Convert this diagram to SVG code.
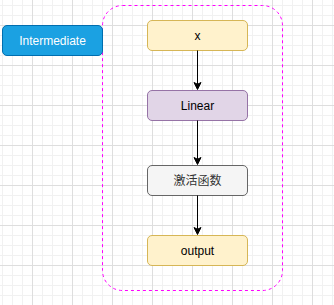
<svg xmlns="http://www.w3.org/2000/svg" width="334" height="305" viewBox="0 0 334 305">
  <defs>
    <pattern id="grid" patternUnits="userSpaceOnUse" x="32" y="25" width="40" height="40">
      <rect x="0" y="0" width="40" height="40" fill="#ffffff"/>
      <g fill="#f1f1f1">
        <rect x="10" y="0" width="1" height="40"/>
        <rect x="20" y="0" width="1" height="40"/>
        <rect x="30" y="0" width="1" height="40"/>
        <rect x="0" y="10" width="40" height="1"/>
        <rect x="0" y="20" width="40" height="1"/>
        <rect x="0" y="30" width="40" height="1"/>
      </g>
      <g fill="#dedede">
        <rect x="0" y="0" width="1" height="40"/>
        <rect x="0" y="0" width="40" height="1"/>
      </g>
    </pattern>
    <marker id="arrow" markerUnits="userSpaceOnUse" markerWidth="8" markerHeight="8" refX="1.75" refY="3.5" orient="auto" overflow="visible">
      <path d="M0,0 L7,3.5 L0,7 L1.75,3.5 Z" fill="#000000" stroke="#000000" stroke-width="1"/>
    </marker>
    <style>
      .lbl { font-family: "Liberation Sans", Arial, "Noto Sans CJK SC", sans-serif; font-size: 12px; text-anchor: middle; }
      .yellow { fill: #fff2cc; stroke: #d6b656; stroke-width: 1; }
      .purple { fill: #e1d5e7; stroke: #9673a6; stroke-width: 1; }
      .grey { fill: #f5f5f5; stroke: #666666; stroke-width: 1; }
      .blue { fill: #1ba1e2; stroke: #006eaf; stroke-width: 1; }
      .edge { fill: none; stroke: #000000; stroke-width: 1; marker-end: url(#arrow); }
    </style>
  </defs>
  <rect x="0" y="0" width="334" height="305" fill="url(#grid)"/>

  <g id="container">
    <rect x="102.5" y="5.5" width="180" height="285" rx="20" ry="20" fill="none" stroke="#ff00ff" stroke-width="1" stroke-dasharray="3 3"/>
  </g>

  <g id="intermediate">
    <rect class="blue" x="2.5" y="25.5" width="100" height="30" rx="4.5" ry="4.5"/>
    <text class="lbl" x="52.5" y="44.5" fill="#ffffff">Intermediate</text>
  </g>

  <g id="node-x">
    <rect class="yellow" x="147.5" y="20.5" width="100" height="30" rx="4.5" ry="4.5"/>
    <text class="lbl" x="197.5" y="39.5" fill="#000000">x</text>
  </g>

  <g id="node-linear">
    <rect class="purple" x="147.5" y="90.5" width="100" height="30" rx="4.5" ry="4.5"/>
    <text class="lbl" x="197.5" y="109.5" fill="#000000">Linear</text>
  </g>

  <g id="node-activation">
    <rect class="grey" x="147.5" y="165.5" width="100" height="30" rx="4.5" ry="4.5"/>
    <text class="lbl" x="197.5" y="184.5" fill="#333333">激活函数</text>
  </g>

  <g id="node-output">
    <rect class="yellow" x="147.5" y="235.5" width="100" height="30" rx="4.5" ry="4.5"/>
    <text class="lbl" x="197.5" y="254.5" fill="#000000">output</text>
  </g>

  <g id="connectors">
    <path class="edge" d="M197.5,50.5 L197.5,84.25"/>
    <path class="edge" d="M197.5,120.5 L197.5,159.25"/>
    <path class="edge" d="M197.5,195.5 L197.5,229.25"/>
  </g>
</svg>
